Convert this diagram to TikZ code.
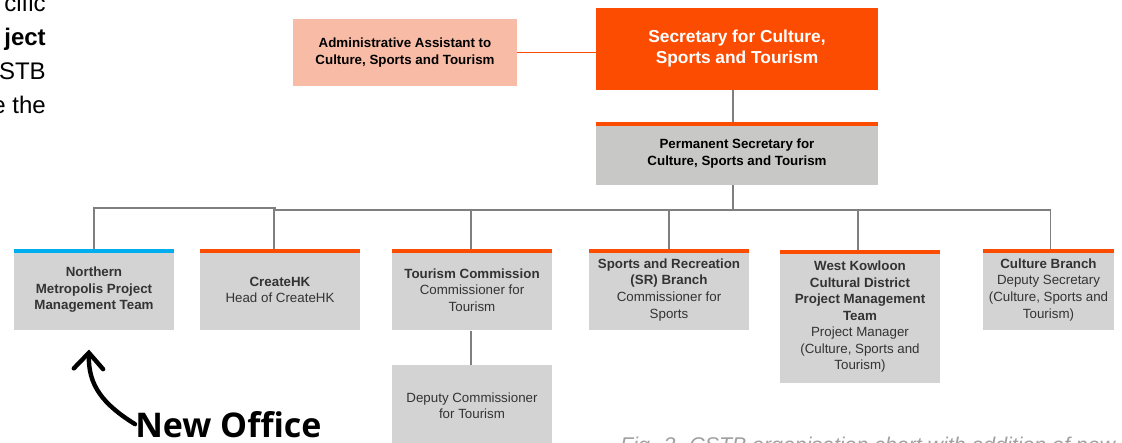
\documentclass[tikz,border=0pt]{standalone}
\usepackage{fontspec}
\setmainfont{Liberation Sans}
\newfontfamily\officefont{Open Sans}
\usepackage{tikz}
\usetikzlibrary{arrows.meta,positioning,calc}
\definecolor{cstborange}{HTML}{FC4C02}
\definecolor{salmon}{HTML}{F8BBA6}
\definecolor{permgray}{HTML}{C8C9C6}
\definecolor{boxgray}{HTML}{D3D3D3}
\definecolor{nmblue}{HTML}{00AEEF}
\definecolor{linegray}{HTML}{7F7F7F}
\definecolor{captiongray}{HTML}{A0A0A0}

\begin{document}
\begin{tikzpicture}[x=0.75pt, y=-0.75pt,
  unit/.style={fill=boxgray, minimum width=120pt, minimum height=60.75pt, anchor=north, align=center, inner sep=1pt, font=\fontsize{10}{12.4}\selectfont, text=black!80},
  head/.style={minimum width=211.5pt, align=center, font=\bfseries\fontsize{10}{12.4}\selectfont},
  topbar/.style={fill=cstborange},
  link/.style={draw=linegray, line width=0.9pt},
  frag/.style={anchor=base east, inner sep=0pt, font=\fontsize{18}{24}\selectfont}
]
\useasboundingbox (0,0) rectangle (1122,443);
\clip (0,0) rectangle (1122,443);

% running text cut by the crop
\node[frag] (t1) at (46,11) {cific};
\node[frag] (t2) at (46,45) {\bfseries ject};
\node[frag] (t3) at (46,79) {STB};
\node[frag] (t4) at (46,113) {e the};

% top of the chart
\node[head, fill=cstborange, text=white, minimum height=61.5pt, font=\bfseries\fontsize{13}{15.75}\selectfont] (sec) at (737,49) {Secretary for Culture,\\Sports and Tourism};
\node[head, fill=salmon, minimum width=168pt, minimum height=50.25pt, text depth=2pt] (admin) at (405,52.5) {Administrative Assistant to\\Culture, Sports and Tourism};
\node[head, fill=permgray, minimum height=47.25pt] (perm) at (737,153.5) {Permanent Secretary for\\Culture, Sports and Tourism};

% branches
\node[unit] (nmp) at (94,249) {\textbf{Northern}\\\textbf{Metropolis Project}\\\textbf{Management Team}};
\node[unit] (cre) at (280,249) {\textbf{CreateHK}\\Head of CreateHK};
\node[unit] (tou) at (472,249) {\textbf{Tourism Commission}\\Commissioner for\\Tourism};
\node[unit] (spo) at (669,249) {\textbf{Sports and Recreation}\\\textbf{(SR) Branch}\\Commissioner for\\Sports};
\node[unit, minimum height=99.75pt] (wkc) at (860,250) {\textbf{West Kowloon}\\\textbf{Cultural District}\\\textbf{Project Management}\\\textbf{Team}\\Project Manager\\(Culture, Sports and\\Tourism)};
\node[unit, minimum width=98.25pt] (cul) at (1048.5,249) {\textbf{Culture Branch}\\Deputy Secretary\\(Culture, Sports and\\Tourism)};
\node[unit] (dep) at (472,365) {Deputy Commissioner\\for Tourism};

\fill[topbar] (perm.north west) rectangle ([yshift=-3.5pt]perm.north east);
\foreach \n in {cre,tou,spo,wkc,cul}
  \fill[topbar] (\n.north west) rectangle ([yshift=-3pt]\n.north east);
\fill[nmblue] (nmp.north west) rectangle ([yshift=-3pt]nmp.north east);

% connectors
\coordinate (trunk) at (733,210);
\coordinate (nmbus) at (0,208);
\draw[draw=cstborange, line width=0.9pt] (admin.east) -- (admin.east -| sec.west);
\draw[link] (sec.south -| trunk) -- (perm.north -| trunk);
\draw[link] (perm.south -| trunk) -- (trunk);
\draw[link] ([xshift=-4.5pt]cre.north) |- ([xshift=1.5pt]cul.north |- trunk);
\foreach \n/\dx in {tou/-0.75, spo/0, wkc/-1.5, cul/1.5}
  \draw[link] ([xshift=\dx pt]\n.north) -- ([xshift=\dx pt]\n.north |- trunk);
\draw[link] (nmp.north) |- ([xshift=-3pt]cre.north |- nmbus);
\draw[link] ([xshift=-0.75pt]tou.south) -- ([xshift=-0.75pt]dep.north);

% new office marker
\node[anchor=base west, inner sep=0pt, font=\officefont\bfseries\fontsize{25.5}{30}\selectfont] (newoff) at (135,437) {New Office};
\coordinate (tip) at ([xshift=-3.75pt,yshift=-14.25pt]nmp.south);
\draw[line width=3.3pt, line cap=round, -{Straight Barb[length=12pt, width=22pt, line cap=round]}] (newoff.west) .. controls +(-32,-20) and +(-1,36) .. (tip);

% caption
\node[anchor=base west, inner sep=0pt, text=captiongray, font=\itshape\fontsize{16}{19}\selectfont] (cap) at (620,452) {Fig. 3. CSTB organisation chart with addition of new};
\end{tikzpicture}
\end{document}
